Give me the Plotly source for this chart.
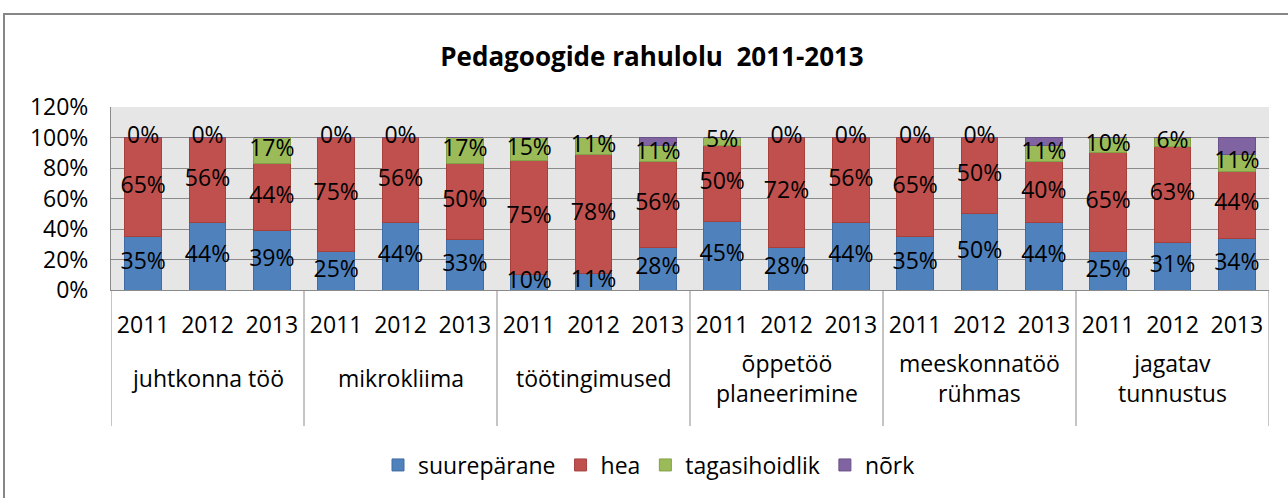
import plotly.graph_objects as go

groups = ["juhtkonna töö", "mikrokliima", "töötingimused", "õppetöö<br>planeerimine",
          "meeskonnatöö<br>rühmas", "jagatav<br>tunnustus"]
years = ["2011", "2012", "2013"]

suureparane = [35, 44, 39, 25, 44, 33, 10, 11, 28, 45, 28, 44, 35, 50, 44, 25, 31, 34]
hea = [65, 56, 44, 75, 56, 50, 75, 78, 56, 50, 72, 56, 65, 50, 40, 65, 63, 44]
tagasihoidlik = [0, 0, 17, 0, 0, 17, 15, 11, 11, 5, 0, 0, 0, 0, 11, 10, 6, 11]
nork = [0, 0, 0, 0, 0, 0, 0, 0, 5, 0, 0, 0, 0, 0, 5, 0, 0, 11]

series = [
    ("suurepärane", suureparane, "#4F81BD", "#3F6DA3", True),
    ("hea", hea, "#C0504D", "#A5403D", True),
    ("tagasihoidlik", tagasihoidlik, "#9BBB59", "#82A047", True),
    ("nõrk", nork, "#8064A2", "#6A5288", False),
]

FONT = "Open Sans, sans-serif"
GRID = "#8A8A8A"
n = len(suureparane)
ng = len(groups)
ny = len(years)
xpos = list(range(n))
ticktext = [years[i % ny] for i in range(n)]

fig = go.Figure()
base = [0] * n
lx, ly, lt = [], [], []
for name, vals, col, lc, show in series:
    fig.add_trace(go.Bar(x=xpos, y=[v / 100 for v in vals], name=name,
                         marker=dict(color=col, line=dict(color=lc, width=1)),
                         hoverinfo="skip"))
    if show:
        for i, v in enumerate(vals):
            lx.append(xpos[i])
            ly.append((base[i] + v / 2) / 100)
            lt.append(f"{v}%")
    base = [b + v for b, v in zip(base, vals)]

fig.add_trace(go.Scatter(x=lx, y=ly, text=lt, mode="text",
                         textfont=dict(family=FONT, size=23, color="#000000"),
                         showlegend=False, hoverinfo="skip", cliponaxis=False))

# plot-area geometry in pixels (used for paper-coordinate placement of frame items)
PL, PR, PT, PB = 111, 1269, 107, 290
PW, PH = PR - PL, PB - PT

def py(pix):
    return (PB - pix) / PH

def px(pix):
    return (pix - PL) / PW

shapes = []
for g in range(ng + 1):
    xd = g * ny - 0.5
    shapes.append(dict(type="line", xref="x", yref="paper", x0=xd, x1=xd,
                       y0=py(426), y1=0, line=dict(color=GRID, width=1)))
shapes.append(dict(type="rect", xref="paper", yref="paper",
                   x0=px(4), x1=px(1300), y0=py(510), y1=py(14),
                   line=dict(color="#868686", width=2), fillcolor="rgba(0,0,0,0)", layer="below"))

annotations = []
for g, name in enumerate(groups):
    annotations.append(dict(x=g * ny + (ny - 1) / 2, y=py(378), xref="x", yref="paper",
                            text=name, showarrow=False, xanchor="center", yanchor="middle",
                            font=dict(family=FONT, size=23, color="#000000")))

fig.update_layout(
    barmode="stack", bargap=0.43,
    width=1288, height=498,
    margin=dict(l=PL, r=1288 - PR, t=PT, b=498 - PB, autoexpand=False),
    paper_bgcolor="white", plot_bgcolor="#E6E6E6",
    font=dict(family=FONT, size=23, color="#000000"),
    title=dict(text="<b>Pedagoogide rahulolu \u00a02011-2013</b>", x=652 / 1288, xanchor="center",
               y=1 - 57 / 498, yanchor="middle", font=dict(size=26, family=FONT)),
    showlegend=True,
    legend=dict(orientation="h", x=px(378), xanchor="left", y=py(465), yanchor="middle",
                font=dict(size=23, family=FONT), traceorder="normal", bgcolor="rgba(0,0,0,0)"),
    yaxis=dict(range=[0, 1.2], dtick=0.2, tickformat=".0%", gridcolor=GRID,
               gridwidth=1, showline=True, linecolor=GRID, linewidth=1, zeroline=False,
               ticks="", ticklabelstandoff=17, tickfont=dict(size=23), automargin=False),
    xaxis=dict(range=[-0.5, n - 0.5], tickmode="array", tickvals=xpos, ticktext=ticktext,
               showline=True, linecolor=GRID, linewidth=1, showgrid=False, zeroline=False,
               ticks="", ticklabelstandoff=14, tickfont=dict(size=23), automargin=False),
    shapes=shapes,
    annotations=annotations,
)
fig.write_html("out.html", config={"displayModeBar": False},
               post_script="document.body.style.margin='0';document.body.style.overflow='hidden';")
